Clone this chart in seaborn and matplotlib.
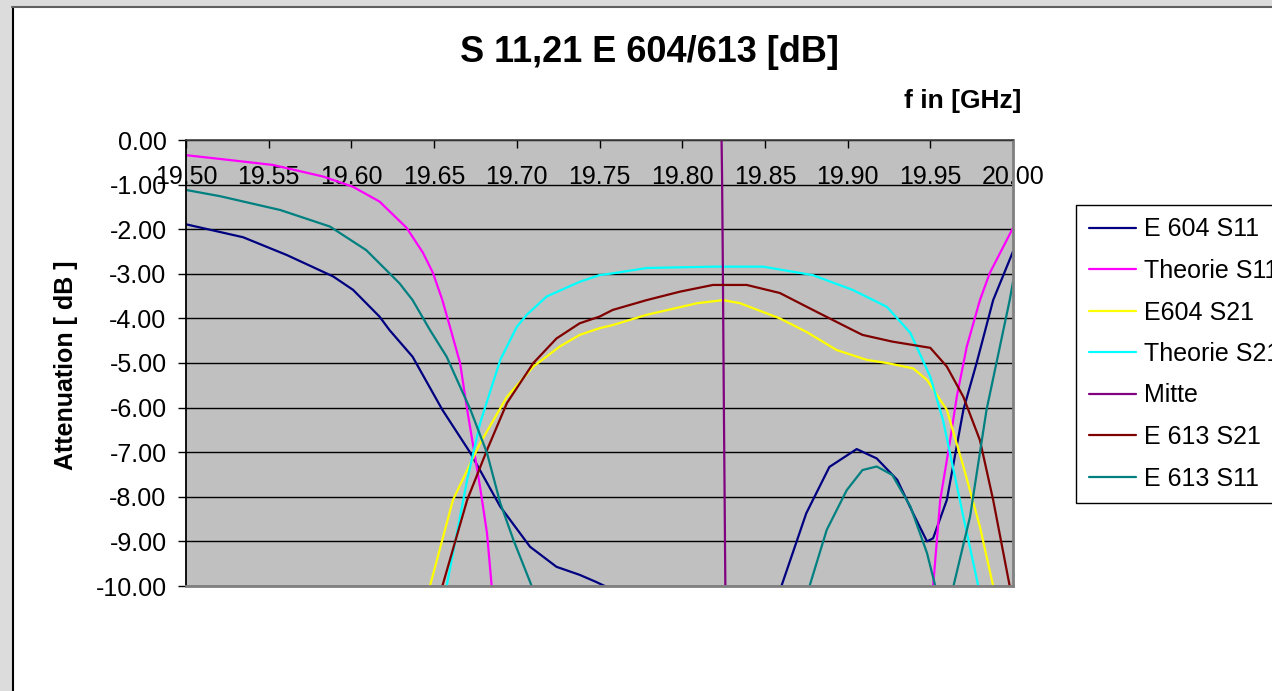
import numpy as np
import pandas as pd
import matplotlib
matplotlib.use("Agg")
import matplotlib.pyplot as plt
from matplotlib.patches import Rectangle
from matplotlib.lines import Line2D
from matplotlib.ticker import FormatStrFormatter
import seaborn as sns

e604_s11_f = [19.500, 19.5345, 19.561, 19.589, 19.601, 19.617, 19.623, 19.637, 19.655, 19.672,
              19.690, 19.708, 19.724, 19.738, 19.748, 19.756, 19.800, 19.840, 19.860, 19.875,
              19.889, 19.9055, 19.9176, 19.930, 19.9396, 19.948, 19.9517, 19.960, 19.970, 19.978,
              19.988, 20.000]
e604_s11_db = [-1.89, -2.18, -2.58, -3.06, -3.36, -3.96, -4.26, -4.86, -6.05, -7.02,
               -8.22, -9.12, -9.57, -9.75, -9.91, -10.05, -10.9, -11.2, -10.0, -8.37,
               -7.33, -6.93, -7.14, -7.62, -8.37, -9.0, -8.93, -8.07, -6.05, -5.0,
               -3.59, -2.5]

theo_s11_f = [19.500, 19.5266, 19.5526, 19.583, 19.601, 19.617, 19.6334, 19.6433, 19.6493, 19.655,
              19.6596, 19.6657, 19.670, 19.6778, 19.682, 19.6848, 19.700, 19.930, 19.9517, 19.956,
              19.962, 19.966, 19.972, 19.980, 19.986, 20.000]
theo_s11_db = [-0.34, -0.45, -0.56, -0.82, -1.05, -1.38, -1.97, -2.53, -2.98, -3.59,
               -4.19, -5.0, -6.05, -7.78, -8.82, -10.0, -13.0, -13.0, -10.0, -8.07,
               -6.73, -5.76, -4.64, -3.59, -2.98, -1.97]

e604_s21_f = [19.630, 19.6475, 19.6614, 19.6778, 19.694, 19.710, 19.726, 19.738, 19.750, 19.758,
              19.7785, 19.809, 19.8247, 19.835, 19.859, 19.875, 19.8934, 19.9116, 19.9237, 19.9396,
              19.948, 19.960, 19.970, 19.980, 19.988, 19.998]
e604_s21_db = [-12.5, -10.0, -8.07, -6.8, -5.76, -5.08, -4.63, -4.37, -4.22, -4.15,
               -3.92, -3.66, -3.59, -3.66, -4.0, -4.3, -4.71, -4.93, -5.0, -5.12,
               -5.38, -6.05, -7.32, -8.67, -10.0, -11.8]

theo_s21_f = [19.640, 19.6576, 19.670, 19.6778, 19.690, 19.700, 19.706, 19.718, 19.738, 19.750,
              19.758, 19.7785, 19.8186, 19.8489, 19.879, 19.903, 19.9237, 19.9347, 19.938, 19.950,
              19.9577, 19.970, 19.979, 19.990]
theo_s21_db = [-13.0, -10.0, -7.62, -6.35, -4.93, -4.19, -3.92, -3.51, -3.18, -3.03,
               -2.99, -2.87, -2.84, -2.84, -3.03, -3.36, -3.74, -4.19, -4.33, -5.31,
               -6.28, -8.45, -10.0, -12.5]

mitte_f = [19.8238, 19.8241, 19.8245, 19.8252, 19.8262]
mitte_db = [0.0, -0.8, -2.5, -6.0, -10.5]

e613_s21_f = [19.640, 19.655, 19.670, 19.682, 19.694, 19.710, 19.724, 19.738, 19.750, 19.758,
              19.7785, 19.7987, 19.8186, 19.839, 19.859, 19.879, 19.903, 19.909, 19.927, 19.950,
              19.960, 19.970, 19.980, 19.988, 19.998, 20.000]
e613_s21_db = [-12.3, -10.0, -8.07, -6.95, -5.9, -5.0, -4.45, -4.11, -3.96, -3.81,
               -3.59, -3.4, -3.25, -3.25, -3.43, -3.81, -4.26, -4.37, -4.52, -4.66,
               -5.08, -5.76, -6.73, -8.07, -10.0, -10.3]

e613_s11_f = [19.500, 19.5206, 19.557, 19.587, 19.609, 19.629, 19.637, 19.6475, 19.6576, 19.672,
              19.682, 19.690, 19.698, 19.709, 19.730, 19.860, 19.877, 19.8874, 19.8995, 19.909,
              19.9176, 19.927, 19.938, 19.948, 19.953, 19.958, 19.964, 19.974, 19.984, 19.998,
              20.000]
e613_s11_db = [-1.12, -1.26, -1.57, -1.94, -2.47, -3.21, -3.59, -4.26, -4.86, -6.05,
               -7.02, -8.14, -8.97, -10.0, -11.5, -11.5, -10.0, -8.74, -7.85, -7.4,
               -7.32, -7.51, -8.22, -9.26, -10.0, -10.6, -10.0, -8.45, -6.05, -3.59,
               -3.18]

series_names = ["E 604 S11", "Theorie S11", "E604 S21", "Theorie S21", "Mitte", "E 613 S21", "E 613 S11"]
series_colors = ["#000080", "#FF00FF", "#FFFF00", "#00FFFF", "#800080", "#800000", "#008080"]
series_data = [(e604_s11_f, e604_s11_db), (theo_s11_f, theo_s11_db), (e604_s21_f, e604_s21_db),
               (theo_s21_f, theo_s21_db), (mitte_f, mitte_db), (e613_s21_f, e613_s21_db),
               (e613_s11_f, e613_s11_db)]

x_ticks = [19.50, 19.55, 19.60, 19.65, 19.70, 19.75, 19.80, 19.85, 19.90, 19.95, 20.00]
y_ticks = [0, -1, -2, -3, -4, -5, -6, -7, -8, -9, -10]

sns.set_theme(style="white")
plt.rcParams['font.family'] = ['Liberation Sans', 'DejaVu Sans']
plt.rcParams['axes.unicode_minus'] = False
plt.rcParams['text.color'] = 'black'
plt.rcParams['axes.labelcolor'] = 'black'
plt.rcParams['xtick.color'] = 'black'
plt.rcParams['ytick.color'] = 'black'

W, H = 1272, 691
fig = plt.figure(figsize=(W / 100, H / 100), dpi=100)
fig.patch.set_facecolor('#DCDCDC')

# weisse Diagrammflaeche mit Rahmen
fig.add_artist(Rectangle((12 / W, 0), 1, 1 - 7 / H, transform=fig.transFigure,
                         facecolor='white', edgecolor='none', zorder=0))
fig.add_artist(Line2D([12.5 / W, 12.5 / W], [0, 1 - 6.5 / H], transform=fig.transFigure,
                      color='black', lw=1.5))
fig.add_artist(Line2D([12 / W, 1], [1 - 6.5 / H, 1 - 6.5 / H], transform=fig.transFigure,
                      color='#606060', lw=1.5))

ax = fig.add_axes([186 / W, 1 - 586 / H, 827 / W, 446 / H])
ax.set_facecolor('#C0C0C0')

for name, color, (f, db) in zip(series_names, series_colors, series_data):
    df = pd.DataFrame({"f": f, "db": db})
    sns.lineplot(data=df, x="f", y="db", color=color, lw=1.6, label=name,
                 estimator=None, sort=False, ax=ax)

ax.set_xlim(19.5, 20.0)
ax.set_ylim(-10, 0)
ax.set_xticks(x_ticks)
ax.set_yticks(y_ticks)
ax.xaxis.set_major_formatter(FormatStrFormatter('%.2f'))
ax.yaxis.set_major_formatter(FormatStrFormatter('%.2f'))

ax.xaxis.set_ticks_position('top')
ax.tick_params(axis='x', top=True, bottom=False, labeltop=True, labelbottom=False,
               direction='in', length=6, width=1, color='black', labelcolor='black',
               pad=-35, labelsize=18)
ax.tick_params(axis='y', left=True, direction='out', length=6, width=1, color='black',
               labelcolor='black', pad=8, labelsize=18)

ax.yaxis.grid(True, color='black', lw=1)
ax.xaxis.grid(False)
ax.spines['left'].set_color('black')
ax.spines['left'].set_linewidth(1.3)
ax.spines['top'].set_color('#404040')
ax.spines['top'].set_linewidth(1.2)
for s in ['right', 'bottom']:
    ax.spines[s].set_color('#808080')
    ax.spines[s].set_linewidth(2)

ax.xaxis.set_label_position('top')
ax.set_xlabel('f in [GHz]', fontsize=19, fontweight='bold', color='black')
ax.xaxis.set_label_coords((963 - 186) / 827, 1 + 39 / 446)
ax.xaxis.label.set_va('center')
ax.set_ylabel('Attenuation [ dB ]', fontsize=18, fontweight='bold', color='black')
ax.yaxis.set_label_coords((66 - 186) / 827, 1 - (365 - 140) / 446)
ax.yaxis.label.set_va('center')

fig.text(649 / W, 1 - 52 / H, 'S 11,21 E 604/613 [dB]', ha='center', va='center',
         fontsize=26, fontweight='bold', color='black')

handles, labels = ax.get_legend_handles_labels()
ax.get_legend().remove()
leg = fig.legend(handles, labels, loc='upper left', bbox_to_anchor=(1076 / W, 1 - 205 / H),
                 fontsize=18, frameon=True, fancybox=False, shadow=False, framealpha=1,
                 edgecolor='black', borderpad=0.5, labelspacing=0.7, handlelength=1.9,
                 handletextpad=0.3, borderaxespad=0)
leg.get_frame().set_linewidth(1)
for t in leg.get_texts():
    t.set_color('black')
for h in leg.legend_handles:
    h.set_linewidth(1.6)

fig.savefig('out.png', dpi=100)
